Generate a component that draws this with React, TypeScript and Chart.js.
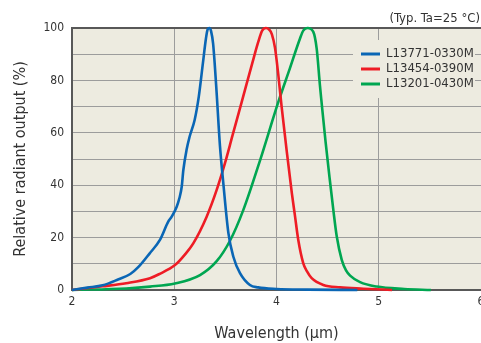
import { useEffect, useRef } from 'react';
import { Chart, registerables } from 'chart.js';

Chart.register(...registerables);

const seriesNames = ['L13771-0330M', 'L13454-0390M', 'L13201-0430M'];
const seriesColors = ['#0A66B5', '#EE1C25', '#00A651'];

const blueX = [2.0, 2.15, 2.3, 2.45, 2.57, 2.65, 2.76, 2.86, 2.94, 2.975, 3.024, 3.05, 3.073, 3.089, 3.12, 3.15, 3.2, 3.24, 3.28, 3.31, 3.327, 3.343, 3.36, 3.38, 3.41, 3.447, 3.48, 3.53, 3.578, 3.643, 3.74, 3.82, 4.0, 4.3, 4.79];
const blueY = [0, 0.9, 1.8, 4.0, 6.1, 8.8, 14, 19.1, 26, 28, 31.8, 35, 39.4, 45.8, 53.4, 58.5, 65, 73.8, 86.5, 96, 99.5, 100, 98.8, 94, 78, 55, 40.7, 21.6, 12.7, 6.4, 1.9, 1.0, 0.4, 0.15, 0];

const redX = [2.0, 2.3, 2.53, 2.763, 2.85, 3.007, 3.11, 3.186, 3.317, 3.415, 3.496, 3.57, 3.66, 3.78, 3.82, 3.86, 3.897, 3.93, 3.955, 3.985, 4.018, 4.05, 4.1, 4.15, 4.18, 4.213, 4.262, 4.3, 4.344, 4.458, 4.62, 4.85, 5.13];
const redY = [0, 1.4, 2.6, 4.5, 6.0, 9.5, 13.8, 17.8, 28, 38.2, 48.4, 59, 71.8, 89, 94.5, 99, 100, 99.3, 97.6, 92.5, 82, 70, 53, 37, 28.5, 19.1, 10.2, 7.0, 4.5, 1.9, 1.0, 0.5, 0];

const greenX = [2.0, 2.53, 2.763, 3.007, 3.252, 3.415, 3.545, 3.675, 3.84, 4.018, 4.13, 4.23, 4.262, 4.305, 4.36, 4.393, 4.425, 4.44, 4.48, 4.523, 4.556, 4.589, 4.638, 4.68, 4.72, 4.817, 4.98, 5.25, 5.51];
const greenY = [0, 0.6, 1.3, 2.5, 5.7, 11, 18.8, 30.5, 49.6, 71.8, 84.5, 96, 99, 100, 98.5, 92.1, 78, 72, 56.5, 41.5, 30.5, 20.5, 11.5, 7.5, 5.5, 3.0, 1.3, 0.4, 0];

const xTicks = [2, 3, 4, 5, 6];
const yLabelStep = 20;
const titleNote = '(Typ. Ta=25 °C)';
const xTitle = 'Wavelength (μm)';
const yTitle = 'Relative radiant output (%)';

const FONT = "'DejaVu Sans Condensed', 'DejaVu Sans', sans-serif";
const TEXT = '#333333';
const PLOT_BG = '#EDEBE0';
const GRID = '#9C9C9C';
const BORDER = '#585858';

const toPoints = (xs: number[], ys: number[]) => xs.map((x, i) => ({ x, y: ys[i] }));

const decorPlugin = {
  id: 'decor',
  beforeDraw(chart: any) {
    const { ctx, chartArea } = chart;
    ctx.save();
    ctx.fillStyle = PLOT_BG;
    ctx.fillRect(chartArea.left, chartArea.top, chartArea.right - chartArea.left, chartArea.bottom - chartArea.top);
    ctx.restore();
  },
  beforeDatasetsDraw(chart: any) {
    const { ctx, chartArea } = chart;
    const r = chartArea.right;
    const t = chartArea.top;
    ctx.save();
    ctx.fillStyle = PLOT_BG;
    ctx.fillRect(r - 128, t + 12, 122, 58);
    ctx.font = `13px ${FONT}`;
    ctx.textBaseline = 'middle';
    ctx.textAlign = 'left';
    seriesNames.forEach((name, i) => {
      const y = t + 26 + i * 15;
      ctx.strokeStyle = seriesColors[i];
      ctx.lineWidth = 3;
      ctx.beginPath();
      ctx.moveTo(r - 120, y);
      ctx.lineTo(r - 101, y);
      ctx.stroke();
      ctx.fillStyle = TEXT;
      ctx.fillText(name, r - 95, y);
    });
    ctx.restore();
  },
  afterDraw(chart: any) {
    const { ctx, chartArea } = chart;
    ctx.save();
    ctx.font = `13px ${FONT}`;
    ctx.fillStyle = TEXT;
    ctx.textAlign = 'right';
    ctx.textBaseline = 'middle';
    ctx.fillText(titleNote, chartArea.right - 1, chartArea.top - 9);
    ctx.restore();
  },
};

export default function App() {
  const ref = useRef<HTMLCanvasElement | null>(null);

  useEffect(() => {
    if (!ref.current) return;
    const chart = new Chart(ref.current, {
      type: 'line',
      data: {
        datasets: [
          { label: seriesNames[0], data: toPoints(blueX, blueY), borderColor: seriesColors[0] },
          { label: seriesNames[1], data: toPoints(redX, redY), borderColor: seriesColors[1] },
          { label: seriesNames[2], data: toPoints(greenX, greenY), borderColor: seriesColors[2] },
        ].map((d) => ({
          ...d,
          borderWidth: 2.6,
          pointRadius: 0,
          fill: false,
          cubicInterpolationMode: 'monotone' as const,
          clip: false as any,
        })),
      },
      options: {
        animation: false,
        responsive: false,
        devicePixelRatio: 1,
        events: [],
        layout: { padding: { left: 0, right: 19, top: 28, bottom: 0 } },
        plugins: {
          legend: { display: false },
          title: { display: false },
          tooltip: { enabled: false },
        },
        scales: {
          x: {
            type: 'linear',
            min: 2,
            max: 6,
            afterFit: (s: any) => { s.height = 53; },
            afterBuildTicks: (s: any) => { s.ticks = xTicks.map((v) => ({ value: v })); },
            ticks: {
              stepSize: 1,
              padding: 5,
              color: TEXT,
              font: { family: FONT, size: 12 },
              maxRotation: 0,
            },
            grid: { color: GRID, lineWidth: 1, drawTicks: false },
            border: { color: BORDER, width: 2 },
            title: {
              display: true,
              text: xTitle,
              color: TEXT,
              font: { family: FONT, size: 16 },
              padding: { top: 0, bottom: 0 },
            },
          },
          y: {
            type: 'linear',
            min: 0,
            max: 100,
            afterFit: (s: any) => { s.width = 72; },
            ticks: {
              stepSize: 10,
              padding: 8,
              color: TEXT,
              font: { family: FONT, size: 12 },
              callback: (v: any) => (Number(v) % yLabelStep === 0 ? String(v) : ''),
            },
            grid: {
              color: (c: any) => (c.tick && c.tick.value === 100 ? BORDER : GRID),
              lineWidth: (c: any) => (c.tick && c.tick.value === 100 ? 2 : 1),
              drawTicks: false,
            },
            border: { color: BORDER, width: 2 },
            title: {
              display: true,
              text: yTitle,
              color: TEXT,
              font: { family: FONT, size: 16 },
              padding: { top: 11, bottom: 0 },
            },
          },
        },
      },
      plugins: [decorPlugin],
    });
    return () => chart.destroy();
  }, []);

  return (
    <div style={{ position: 'absolute', left: 0, top: 0, width: 481, height: 343, overflow: 'hidden', background: '#fff' }}>
      <canvas ref={ref} width={500} height={343} style={{ display: 'block', width: 500, height: 343 }} />
    </div>
  );
}
